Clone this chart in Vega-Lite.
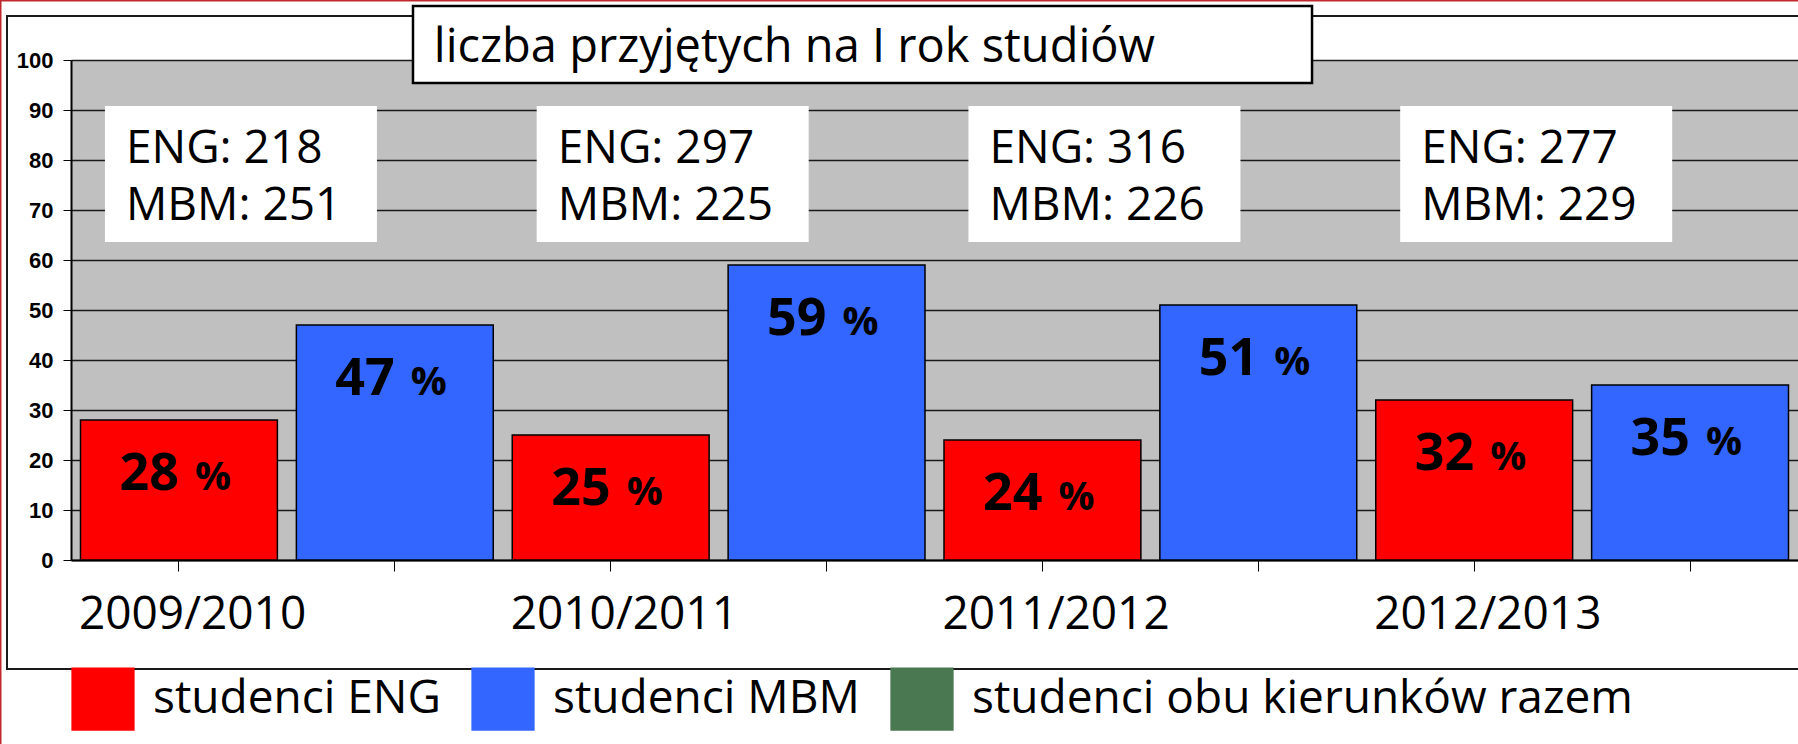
{
  "$schema": "https://vega.github.io/schema/vega-lite/v6.json",
  "width": 1727,
  "height": 500,
  "autosize": {"type": "none"},
  "padding": {"left": 71, "top": 60, "right": 0, "bottom": 184},
  "background": "white",
  "config": {
    "view": {"fill": "#C0C0C0", "stroke": null},
    "font": "Open Sans"
  },
  "datasets": {
    "slupki": [
      {"slupek": "2009/2010 ENG", "rok": "2009/2010", "kierunek": "ENG", "grupa": "studenci ENG", "procent": 28},
      {"slupek": "2009/2010 MBM", "rok": "2009/2010", "kierunek": "MBM", "grupa": "studenci MBM", "procent": 47},
      {"slupek": "2010/2011 ENG", "rok": "2010/2011", "kierunek": "ENG", "grupa": "studenci ENG", "procent": 25},
      {"slupek": "2010/2011 MBM", "rok": "2010/2011", "kierunek": "MBM", "grupa": "studenci MBM", "procent": 59},
      {"slupek": "2011/2012 ENG", "rok": "2011/2012", "kierunek": "ENG", "grupa": "studenci ENG", "procent": 24},
      {"slupek": "2011/2012 MBM", "rok": "2011/2012", "kierunek": "MBM", "grupa": "studenci MBM", "procent": 51},
      {"slupek": "2012/2013 ENG", "rok": "2012/2013", "kierunek": "ENG", "grupa": "studenci ENG", "procent": 32},
      {"slupek": "2012/2013 MBM", "rok": "2012/2013", "kierunek": "MBM", "grupa": "studenci MBM", "procent": 35}
    ],
    "liczby": [
      {"slupek": "2009/2010 ENG", "rok": "2009/2010", "ENG": 218, "MBM": 251},
      {"slupek": "2010/2011 ENG", "rok": "2010/2011", "ENG": 297, "MBM": 225},
      {"slupek": "2011/2012 ENG", "rok": "2011/2012", "ENG": 316, "MBM": 226},
      {"slupek": "2012/2013 ENG", "rok": "2012/2013", "ENG": 277, "MBM": 229}
    ],
    "tytul": [{"tekst": "liczba przyjętych na I rok studiów"}]
  },
  "layer": [
    {
      "layer": [
        {
          "data": {"name": "slupki"},
          "mark": {"type": "bar", "stroke": "black", "strokeWidth": 1.5},
          "encoding": {
            "x": {
              "field": "slupek",
              "type": "nominal",
              "scale": {"paddingInner": 0.088, "paddingOuter": 0.044},
              "axis": {
                "orient": "bottom",
                "title": null,
                "labelExpr": "slice(datum.value, 10) === 'ENG' ? slice(datum.value, 0, 9) : ''",
                "labelAlign": "left",
                "labelOffset": -100,
                "labelBaseline": "alphabetic",
                "labelPadding": 57,
                "labelFontSize": 46,
                "labelColor": "black",
                "labelAngle": 0,
                "labelLimit": 1000,
                "tickSize": 11,
                "tickColor": "black",
                "domainColor": "black",
                "domainWidth": 2
              }
            },
            "y": {
              "field": "procent",
              "type": "quantitative",
              "scale": {"domain": [0, 100], "nice": false},
              "axis": {
                "title": null,
                "values": [0, 10, 20, 30, 40, 50, 60, 70, 80, 90, 100],
                "labelFont": "Liberation Sans",
                "labelFontWeight": "bold",
                "labelFontSize": 22,
                "labelColor": "black",
                "labelPadding": 10,
                "tickSize": 8,
                "tickColor": "black",
                "domainColor": "black",
                "domainWidth": 2,
                "grid": true,
                "gridColor": "#1a1a1a",
                "gridWidth": 1.5
              }
            },
            "color": {
              "field": "grupa",
              "type": "nominal",
              "scale": {"domain": ["studenci ENG", "studenci MBM", "studenci obu kierunków razem"], "range": ["#FF0000", "#3366FF", "#4A7850"]},
              "legend": {
                "title": null,
                "orient": "bottom",
                "direction": "horizontal",
                "offset": 30,
                "symbolType": "square",
                "symbolSize": 4000,
                "symbolStrokeWidth": 0,
                "labelFontSize": 46,
                "labelColor": "black",
                "labelLimit": 1000,
                "labelOffset": 18,
                "columnPadding": 30
              }
            }
          }
        },
        {
          "data": {"name": "slupki"},
          "mark": {"type": "text", "fontWeight": "bold", "fontSize": 52, "align": "right", "baseline": "alphabetic", "dy": 70, "color": "black"},
          "encoding": {
            "x": {"field": "slupek", "type": "nominal"},
            "y": {"field": "procent", "type": "quantitative"},
            "text": {"field": "procent", "type": "quantitative"}
          }
        },
        {
          "data": {"name": "slupki"},
          "mark": {"type": "text", "fontWeight": "bold", "fontSize": 40, "align": "left", "baseline": "alphabetic", "dx": 16, "dy": 70, "color": "black"},
          "encoding": {
            "x": {"field": "slupek", "type": "nominal"},
            "y": {"field": "procent", "type": "quantitative"},
            "text": {"value": "%"}
          }
        },
        {
          "data": {"name": "liczby"},
          "mark": {"type": "bar", "fill": "white", "width": 272, "xOffset": 62},
          "encoding": {
            "x": {"field": "slupek", "type": "nominal"},
            "y": {"datum": 90.8, "type": "quantitative"},
            "y2": {"datum": 63.6}
          }
        },
        {
          "data": {"name": "liczby"},
          "transform": [{"calculate": "'ENG: ' + datum.ENG", "as": "linia_eng"}],
          "mark": {"type": "text", "fontSize": 46, "align": "left", "baseline": "alphabetic", "dx": -53, "color": "black"},
          "encoding": {
            "x": {"field": "slupek", "type": "nominal"},
            "y": {"datum": 79.4, "type": "quantitative"},
            "text": {"field": "linia_eng"}
          }
        },
        {
          "data": {"name": "liczby"},
          "transform": [{"calculate": "'MBM: ' + datum.MBM", "as": "linia_mbm"}],
          "mark": {"type": "text", "fontSize": 46, "align": "left", "baseline": "alphabetic", "dx": -53, "color": "black"},
          "encoding": {
            "x": {"field": "slupek", "type": "nominal"},
            "y": {"datum": 68, "type": "quantitative"},
            "text": {"field": "linia_mbm"}
          }
        }
      ]
    },
    {
      "data": {"name": "tytul"},
      "layer": [
        {
          "mark": {"type": "rect", "fill": "white", "fillOpacity": 0, "stroke": "#C0282D", "strokeWidth": 3},
          "encoding": {
            "x": {"datum": -0.3272, "type": "quantitative", "scale": {"domain": [0, 7.9585], "nice": false, "zero": false}, "axis": null},
            "x2": {"datum": 9},
            "y": {"datum": 112, "type": "quantitative"},
            "y2": {"datum": -60}
          }
        },
        {
          "mark": {"type": "rect", "fill": "white", "fillOpacity": 0, "stroke": "#1a1a1a", "strokeWidth": 2},
          "encoding": {
            "x": {"datum": -0.2949, "type": "quantitative"},
            "x2": {"datum": 9},
            "y": {"datum": 108.8, "type": "quantitative"},
            "y2": {"datum": -21.8}
          }
        },
        {
          "mark": {"type": "rect", "fill": "white", "stroke": "black", "strokeWidth": 2.5},
          "encoding": {
            "x": {"datum": 1.576, "type": "quantitative"},
            "x2": {"datum": 5.719},
            "y": {"datum": 110.8, "type": "quantitative"},
            "y2": {"datum": 95.4}
          }
        },
        {
          "mark": {"type": "text", "fontSize": 47, "align": "left", "baseline": "alphabetic", "color": "black"},
          "encoding": {
            "x": {"datum": 1.672, "type": "quantitative"},
            "y": {"datum": 99.6, "type": "quantitative"},
            "text": {"field": "tekst"}
          }
        }
      ]
    }
  ],
  "resolve": {"scale": {"x": "independent"}}
}
